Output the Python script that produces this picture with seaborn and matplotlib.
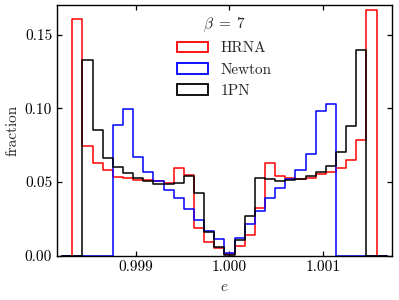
import numpy as np
import pandas as pd
import matplotlib
matplotlib.use("Agg")
import matplotlib.pyplot as plt
from matplotlib.patches import Patch
import seaborn as sns


# Data (fraction per bin)

e_low = 0.9983165
e_high = 1.0015775

hrna = [0.1606, 0.0743, 0.0630, 0.0581, 0.0536, 0.0525, 0.0516, 0.0512, 0.0505, 0.0497,
        0.0597, 0.0547, 0.0187, 0.0093, 0.0052, 0.0011, 0.0070, 0.0142, 0.0325, 0.0630,
        0.0543, 0.0525, 0.0520, 0.0530, 0.0554, 0.0570, 0.0593, 0.0649, 0.0784, 0.1667]

newton = [0.0, 0.0, 0.0, 0.0, 0.0885, 0.0995, 0.0673, 0.0571, 0.0505, 0.0448,
          0.0390, 0.0317, 0.0241, 0.0170, 0.0114, 0.0020, 0.0118, 0.0218, 0.0305, 0.0390,
          0.0460, 0.0518, 0.0581, 0.0688, 0.0980, 0.1027, 0.0, 0.0, 0.0, 0.0]

pn1 = [0.0, 0.1331, 0.0856, 0.0664, 0.0600, 0.0559, 0.0525, 0.0505, 0.0490, 0.0486,
       0.0495, 0.0540, 0.0426, 0.0160, 0.0063, 0.0004, 0.0106, 0.0270, 0.0529, 0.0518,
       0.0508, 0.0514, 0.0522, 0.0543, 0.0570, 0.0612, 0.0705, 0.0880, 0.1397, 0.0]

labels = ["HRNA", "Newton", "1PN"]
colors = ["red", "blue", "black"]


# Style

sns.set_style("ticks")
plt.rcParams["font.family"] = ["cmr10", "DejaVu Serif"]
plt.rcParams["mathtext.fontset"] = "cm"
plt.rcParams["axes.formatter.use_mathtext"] = True
plt.rcParams["axes.edgecolor"] = "black"
plt.rcParams["xtick.color"] = "black"
plt.rcParams["ytick.color"] = "black"
plt.rcParams["xtick.direction"] = "in"
plt.rcParams["ytick.direction"] = "in"
plt.rcParams["xtick.top"] = True
plt.rcParams["ytick.right"] = True


# Plot

# one empty bin on each side so the step outline drops to zero at the ends
n = len(hrna)
width = (e_high - e_low) / n
edges = list(np.linspace(e_low - width, e_high + width, n + 3))
centers = [(a + b) / 2 for a, b in zip(edges[:-1], edges[1:])]

fig = plt.figure(figsize=(3.99, 3.0), dpi=100)
ax = fig.add_axes([0.143, 0.147, 0.839, 0.836])

for vals, c in zip([hrna, newton, pn1], colors):
    df = pd.DataFrame({"e": centers, "w": [0.0] + vals + [0.0]})
    sns.histplot(
        data=df,
        x="e",
        weights="w",
        bins=edges,
        element="step",
        fill=False,
        color=c,
        linewidth=1.1,
        ax=ax
    )

pad = 0.05 * (e_high - e_low)
ax.set_xlim(e_low - pad, e_high + pad)
ax.set_ylim(0, 0.17)
ax.set_xticks([0.999, 1.000, 1.001])
ax.set_xticklabels(["0.999", "1.000", "1.001"])
ax.set_yticks([0.0, 0.05, 0.10, 0.15])
ax.set_yticklabels(["0.00", "0.05", "0.10", "0.15"])
ax.tick_params(labelsize=11, length=3.5, width=0.9, top=True, right=True)
for s in ax.spines.values():
    s.set_linewidth(1.0)
    s.set_zorder(5)

ax.set_xlabel("$e$", fontsize=11)
ax.set_ylabel("fraction", fontsize=11)

handles = [Patch(facecolor="none", edgecolor=c, linewidth=1.3) for c in colors]
ax.legend(
    handles,
    labels,
    title="$\\beta\\;=\\;7$",
    title_fontsize=11,
    fontsize=11,
    frameon=False,
    loc="upper center",
    bbox_to_anchor=(0.5, 1.013)
)

plt.savefig("out.png", dpi=100)
